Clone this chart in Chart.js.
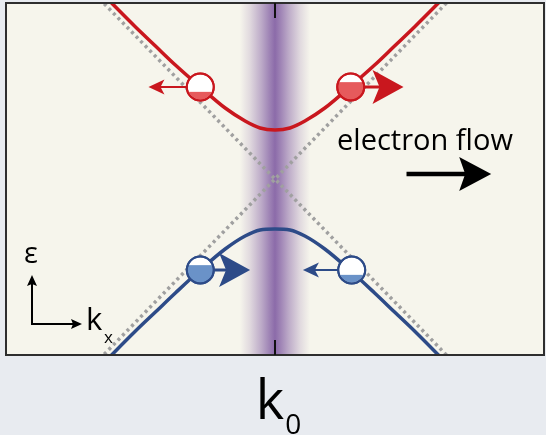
<!DOCTYPE html>
<html>
<head>
<meta charset="utf-8">
<script src="https://cdn.jsdelivr.net/npm/chart.js@4/dist/chart.umd.min.js"></script>
<style>
  html, body { margin: 0; padding: 0; background: #e8ebf0; }
  canvas { display: block; }
</style>
</head>
<body>
<canvas id="band-chart" width="546" height="435"></canvas>
<script>
// k and energy are in plot units, crossing point of the cone at (k0, 0)
const k0 = 0;
const diracK = [-176, 176];
const diracUpE = [-180, 180];
const diracDownE = [180, -180];

const conductionK = [-170, -140, -120, -100, -75, -50, -30, -15, 0, 15, 30, 50, 75, 100, 120, 140, 170];
const conductionE = [182, 152, 133, 114, 92, 71, 58, 51, 49, 51, 58, 71, 92, 114, 133, 152, 182];
const valenceK = [-170, -140, -120, -100, -75, -50, -30, -15, 0, 15, 30, 50, 75, 100, 120, 140, 170];
const valenceE = [-182, -152, -133, -114, -91, -70, -57, -51, -50, -51, -57, -70, -91, -114, -133, -152, -182];

const electronK = [-75, 76, -75, 77];
const electronE = [92, 92, -91, -91];
const electronBand = ["conduction", "conduction", "valence", "valence"];
const electronFilled = [false, true, true, false];

const arrowFromK = [-75, 76, -75, 77, 132];
const arrowToK = [-127, 129, -25, 28, 217];
const arrowE = [92, 92, -91, -91, 5];
const arrowKind = ["small", "big", "big", "small", "flow"];

const flowLabel = "electron flow";
const energyLabel = "ε";
const momentumLabel = "k";
const momentumSub = "x";
const centerLabel = "k";
const centerSub = "0";

const RED = "#c9171e";
const RED_FILL = "#e65a5c";
const BLUE = "#2d4b88";
const BLUE_FILL = "#6a92c8";
const FONT = "'Open Sans', 'DejaVu Sans', sans-serif";
const DOT_R = 13.5;

const toPoints = (ks, es) => ks.map((k, i) => ({ x: k, y: es[i] }));
const bandColor = (i) => (electronBand[i] === "conduction" ? RED : BLUE);
const bandFill = (i) => (electronBand[i] === "conduction" ? RED_FILL : BLUE_FILL);

const drawArrow = (ctx, x0, y0, x1, y1, color, shaftW, headLen, headHalf, notch) => {
  const ang = Math.atan2(y1 - y0, x1 - x0);
  ctx.save();
  ctx.translate(x1, y1);
  ctx.rotate(ang);
  const len = Math.hypot(x1 - x0, y1 - y0);
  ctx.strokeStyle = color;
  ctx.fillStyle = color;
  ctx.lineWidth = shaftW;
  ctx.lineCap = "butt";
  ctx.beginPath();
  ctx.moveTo(-len, 0);
  ctx.lineTo(-headLen + notch + 1, 0);
  ctx.stroke();
  ctx.beginPath();
  ctx.moveTo(0, 0);
  ctx.lineTo(-headLen, -headHalf);
  ctx.lineTo(-headLen + notch, 0);
  ctx.lineTo(-headLen, headHalf);
  ctx.closePath();
  ctx.fill();
  ctx.restore();
};

const arrowStyle = {
  small: { shaft: 2, len: 16, half: 7.5, notch: 4 },
  big: { shaft: 3, len: 31, half: 17, notch: 7 },
  flow: { shaft: 4.5, len: 32, half: 17, notch: 6 },
};

const panelPlugin = {
  id: "panel",
  beforeDraw(chart) {
    const { ctx, chartArea, width, height } = chart;
    ctx.save();
    ctx.fillStyle = "#e8ebf0";
    ctx.fillRect(0, 0, width, height);
    ctx.fillStyle = "#f6f5ec";
    ctx.fillRect(chartArea.left, chartArea.top, chartArea.width, chartArea.height);
    ctx.restore();
  },
  beforeDatasetsDraw(chart) {
    const { ctx, chartArea, scales } = chart;
    const cx = scales.x.getPixelForValue(k0);
    const half = 35;
    const grad = ctx.createLinearGradient(cx - half, 0, cx + half, 0);
    grad.addColorStop(0, "rgba(128, 92, 162, 0)");
    grad.addColorStop(0.14, "rgba(128, 92, 162, 0.18)");
    grad.addColorStop(0.3, "rgba(128, 92, 162, 0.48)");
    grad.addColorStop(0.42, "rgba(128, 92, 162, 0.74)");
    grad.addColorStop(0.5, "rgba(128, 92, 162, 0.9)");
    grad.addColorStop(0.58, "rgba(128, 92, 162, 0.74)");
    grad.addColorStop(0.7, "rgba(128, 92, 162, 0.48)");
    grad.addColorStop(0.86, "rgba(128, 92, 162, 0.18)");
    grad.addColorStop(1, "rgba(128, 92, 162, 0)");
    ctx.save();
    ctx.fillStyle = grad;
    ctx.fillRect(cx - half, chartArea.top, half * 2, chartArea.height);
    ctx.restore();
  },
  beforeDatasetDraw(chart, args) {
    if (args.index !== 0) return;
    const { ctx, scales } = chart;
    arrowFromK.forEach((k, i) => {
      const st = arrowStyle[arrowKind[i]];
      const color = arrowKind[i] === "flow" ? "#000" : bandColor(i);
      const y = scales.y.getPixelForValue(arrowE[i]);
      drawArrow(ctx, scales.x.getPixelForValue(k), y, scales.x.getPixelForValue(arrowToK[i]), y,
        color, st.shaft, st.len, st.half, st.notch);
    });
  },
  afterDatasetDraw(chart, args) {
    if (args.index !== 0) return;
    const { ctx } = chart;
    const meta = chart.getDatasetMeta(0);
    meta.data.forEach((pt, i) => {
      const r = DOT_R;
      ctx.save();
      ctx.beginPath();
      ctx.arc(pt.x, pt.y, r - 1, 0, Math.PI * 2);
      ctx.clip();
      if (electronFilled[i]) {
        ctx.fillStyle = "#ffffff";
        ctx.fillRect(pt.x - r, pt.y - r, r * 2, r * 0.64);
      } else {
        ctx.fillStyle = bandFill(i);
        ctx.fillRect(pt.x - r, pt.y + r * 0.36, r * 2, r);
      }
      ctx.restore();
      ctx.save();
      ctx.beginPath();
      ctx.arc(pt.x, pt.y, r, 0, Math.PI * 2);
      ctx.lineWidth = 2;
      ctx.strokeStyle = bandColor(i);
      ctx.stroke();
      ctx.restore();
    });
  },
  afterDraw(chart) {
    const { ctx, chartArea, scales } = chart;
    const cx = scales.x.getPixelForValue(k0);
    ctx.save();
    ctx.strokeStyle = "#2e2e2e";
    ctx.lineWidth = 2;
    ctx.strokeRect(chartArea.left, chartArea.top, chartArea.width, chartArea.height);
    ctx.strokeStyle = "#111";
    ctx.beginPath();
    ctx.moveTo(cx, chartArea.top);
    ctx.lineTo(cx, chartArea.top + 15);
    ctx.moveTo(cx, chartArea.bottom);
    ctx.lineTo(cx, chartArea.bottom - 15);
    ctx.stroke();

    ctx.fillStyle = "#000";
    ctx.textBaseline = "alphabetic";
    ctx.textAlign = "left";

    // electron flow label, fitted to width of the original
    let size = 24;
    ctx.font = `${size}px ${FONT}`;
    size = size * 176 / ctx.measureText(flowLabel).width;
    ctx.font = `${size}px ${FONT}`;
    ctx.fillText(flowLabel, 337, 150);

    // axes key
    drawArrow(ctx, 32, 325, 32, 275, "#000", 2, 11, 5, 2);
    drawArrow(ctx, 31, 324, 82, 324, "#000", 2, 11, 5, 2);
    ctx.font = `29px ${FONT}`;
    ctx.fillText(energyLabel, 24, 263);
    ctx.font = `31px ${FONT}`;
    ctx.fillText(momentumLabel, 86, 330);
    ctx.font = `17px ${FONT}`;
    ctx.fillText(momentumSub, 104, 343);

    // k0 label under the panel
    ctx.font = `54px ${FONT}`;
    const kw = ctx.measureText(centerLabel).width;
    ctx.fillText(centerLabel, cx - kw / 2 - 5, 419);
    ctx.font = `28px ${FONT}`;
    ctx.fillText(centerSub, cx + kw / 2 - 4, 434);
    ctx.restore();
  },
};

const chart = new Chart(document.getElementById("band-chart").getContext("2d"), {
  type: "scatter",
  data: {
    datasets: [
      {
        label: "electrons",
        data: toPoints(electronK, electronE),
        showLine: false,
        pointRadius: DOT_R,
        pointBorderWidth: 2,
        pointBackgroundColor: electronFilled.map((f, i) => (f ? bandFill(i) : "#ffffff")),
        pointBorderColor: electronFilled.map((f, i) => bandColor(i)),
        order: 1,
      },
      {
        label: "conduction band",
        data: toPoints(conductionK, conductionE),
        showLine: true,
        borderColor: RED,
        borderWidth: 3.5,
        pointRadius: 0,
        cubicInterpolationMode: "monotone",
        order: 2,
      },
      {
        label: "valence band",
        data: toPoints(valenceK, valenceE),
        showLine: true,
        borderColor: BLUE,
        borderWidth: 3.5,
        pointRadius: 0,
        cubicInterpolationMode: "monotone",
        order: 2,
      },
      {
        label: "cone up",
        data: toPoints(diracK, diracUpE),
        showLine: true,
        borderColor: "#a0a0a0",
        borderWidth: 3.5,
        borderDash: [3, 3.5],
        pointRadius: 0,
        order: 3,
      },
      {
        label: "cone down",
        data: toPoints(diracK, diracDownE),
        showLine: true,
        borderColor: "#a0a0a0",
        borderWidth: 3.5,
        borderDash: [3, 3.5],
        pointRadius: 0,
        order: 3,
      },
    ],
  },
  options: {
    responsive: false,
    animation: false,
    devicePixelRatio: 1,
    events: [],
    layout: { autoPadding: false, padding: { left: 6, right: 2, top: 3, bottom: 80 } },
    plugins: {
      legend: { display: false },
      tooltip: { enabled: false },
    },
    scales: {
      x: { type: "linear", min: -270, max: 270, display: false },
      y: { type: "linear", min: -176, max: 176, display: false },
    },
  },
  plugins: [panelPlugin],
});
</script>
</body>
</html>
